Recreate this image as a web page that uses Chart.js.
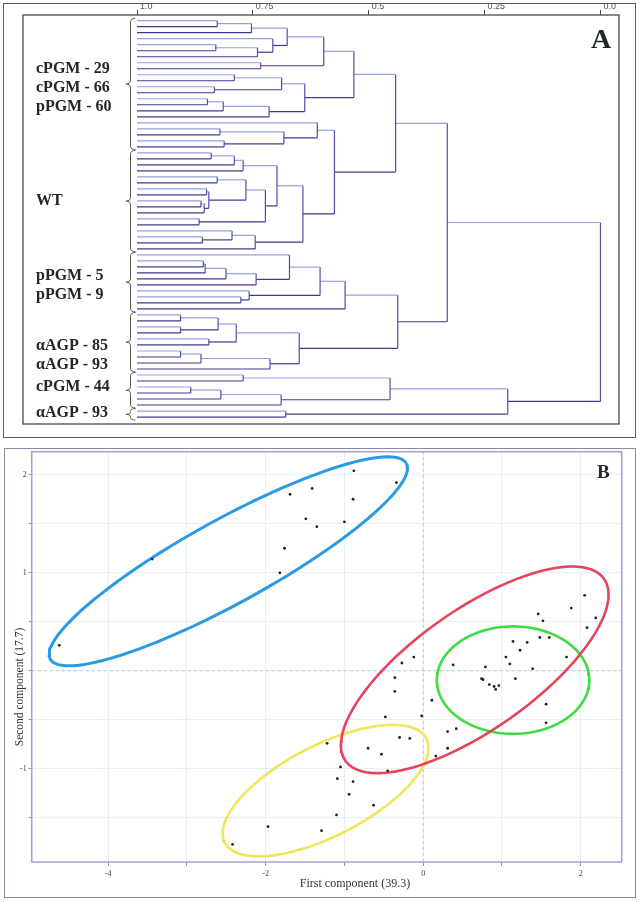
<!DOCTYPE html>
<html>
<head>
<meta charset="utf-8">
<script src="https://cdn.jsdelivr.net/npm/chart.js@4.4.1/dist/chart.umd.min.js"></script>
<style>
  body { margin: 0; background: #fff; width: 640px; height: 902px; position: relative; overflow: hidden; }
  .frame { position: absolute; box-sizing: border-box; }
  #frame-a { left: 3px; top: 3px; width: 633px; height: 435px; border: 1.5px solid #5c5c5c; }
  #frame-b { left: 4px; top: 448px; width: 632px; height: 450px; border: 1.5px solid #8d88a8; }
  canvas { position: absolute; left: 0; }
  #dendro { top: 0; }
  #pca { top: 440px; }
</style>
</head>
<body>
<div class="frame" id="frame-a"></div>
<div class="frame" id="frame-b"></div>
<canvas id="dendro" width="640" height="440"></canvas>
<canvas id="pca" width="640" height="462"></canvas>
<script>
// ---- Panel A: cluster tree ----
const leafCount = 67;
const distanceTicks = [1, 0.75, 0.5, 0.25, 0];

// [node, upper child, lower child, distance]; numbers are leaves, counted from the top
const merges = [
  ['c1', 0, 1, 0.827], ['c2', 'c1', 2, 0.753], ['c3', 4, 5, 0.830], ['c4', 'c3', 6, 0.740],
  ['c5', 3, 'c4', 0.707], ['c6', 'c2', 'c5', 0.676], ['c7', 7, 8, 0.733], ['c8', 'c6', 'c7', 0.597],
  ['d1', 9, 10, 0.790], ['d2', 11, 12, 0.833], ['d3', 'd1', 'd2', 0.688],
  ['d4', 13, 14, 0.848], ['d5', 'd4', 15, 0.814], ['d6', 'd5', 16, 0.715], ['d7', 'd3', 'd6', 0.638],
  ['c9', 'c8', 'd7', 0.532],
  ['e1', 18, 19, 0.821], ['e2', 20, 21, 0.812], ['e3', 'e1', 'e2', 0.683], ['e4', 17, 'e3', 0.611],
  ['w1', 22, 23, 0.840], ['w2', 'w1', 24, 0.790], ['w3', 'w2', 25, 0.771],
  ['w4', 26, 27, 0.827], ['w5', 28, 29, 0.850], ['w6', 30, 31, 0.862], ['w7', 'w6', 32, 0.855],
  ['w8', 'w5', 'w7', 0.845], ['w9', 'w4', 'w8', 0.765], ['w10', 33, 34, 0.866],
  ['w11', 'w9', 'w10', 0.723], ['w12', 'w3', 'w11', 0.698],
  ['w13', 36, 37, 0.859], ['w14', 35, 'w13', 0.795], ['w15', 'w14', 38, 0.745],
  ['wt', 'w12', 'w15', 0.642],
  ['e5', 'e4', 'wt', 0.574], ['up', 'c9', 'e5', 0.442],
  ['p1', 40, 41, 0.857], ['p2', 'p1', 42, 0.853], ['p3', 'p2', 43, 0.808], ['p4', 'p3', 44, 0.743],
  ['p5', 39, 'p4', 0.671], ['p6', 46, 47, 0.776], ['p7', 45, 'p6', 0.758], ['p8', 'p5', 'p7', 0.605],
  ['pp', 'p8', 48, 0.551],
  ['a1', 49, 50, 0.906], ['a2', 51, 52, 0.906], ['a3', 'a1', 'a2', 0.825], ['a4', 53, 54, 0.845],
  ['a5', 'a3', 'a4', 0.786], ['a6', 55, 56, 0.906], ['a7', 'a6', 57, 0.862], ['a8', 'a7', 58, 0.713],
  ['a9', 'a5', 'a8', 0.650],
  ['mid', 'pp', 'a9', 0.4375], ['top', 'up', 'mid', 0.3305],
  ['b1', 59, 60, 0.771], ['b2', 61, 62, 0.884], ['b3', 'b2', 63, 0.819], ['b4', 'b3', 64, 0.689],
  ['b5', 'b1', 'b4', 0.454], ['b6', 65, 66, 0.679], ['b7', 'b5', 'b6', 0.200],
  ['root', 'top', 'b7', 0.0]
];

const groupLabels = [
  ['cPGM - 29', 'cPGM - 66', 'pPGM - 60'],
  ['WT'],
  ['pPGM - 5', 'pPGM - 9'],
  ['αAGP - 85', 'αAGP - 93'],
  ['cPGM - 44'],
  ['αAGP - 93']
];
const groupFirstLeaf = [0, 22, 39, 49, 59, 65];
const groupLastLeaf = [21, 38, 48, 58, 64, 66];

// ---- Panel B: principal components ----
const pcX = [
  -4.62, -3.44, -0.88, -0.34, -1.69, -1.41, -0.89, -1.49, -1.35, -1.00, -1.76, -1.82,
  2.05, 1.88, 2.19, 2.08, 1.46, 1.52, 1.48, 1.60, 1.14, 1.32, 1.23, 1.05, 1.10, 1.82, 1.39,
  0.79, 0.38, 0.74, 0.76, 1.17, 0.84, 0.90, 0.96, 0.92, 1.56, 1.56,
  -0.27, -0.12, -0.36, -0.36, 0.11, -0.02, -0.48, 0.42, 0.31, 0.31, 0.16, -0.30, -0.17,
  -0.70, -0.53, -0.45,
  -1.22, -1.05, -1.09, -0.89, -0.94, -0.63, -1.10, -1.29, -1.97, -2.42
];
const pcY = [
  0.26, 1.14, 2.04, 1.92, 1.80, 1.86, 1.75, 1.55, 1.47, 1.52, 1.25, 1.00,
  0.77, 0.64, 0.54, 0.44, 0.58, 0.51, 0.34, 0.34, 0.30, 0.29, 0.21, 0.14, 0.07, 0.14, 0.02,
  0.04, 0.06, -0.08, -0.09, -0.08, -0.14, -0.16, -0.15, -0.19, -0.34, -0.53,
  0.08, 0.14, -0.07, -0.21, -0.30, -0.46, -0.47, -0.59, -0.62, -0.79, -0.87, -0.68, -0.69,
  -0.79, -0.85, -1.02,
  -0.74, -0.98, -1.10, -1.13, -1.26, -1.37, -1.47, -1.63, -1.59, -1.77
];

// ellipses: centre plus two half-axis vectors, in data units
const ellipseColors = ['#2a9be0', '#e6435d', '#3fdc3f', '#f0e65a'];
const ellipseCx = [-2.474, 0.654, 1.141, -1.239];
const ellipseCy = [1.117, 0.010, -0.095, -1.222];
const ellipseUx = [2.26, 1.642, 0.968, 1.280];
const ellipseUy = [0.998, 0.927, 0.0, 0.530];
const ellipseVx = [0.257, 0.438, 0.0, 0.264];
const ellipseVy = [-0.375, -0.501, 0.548, -0.411];

const xTickValues = [-4, -3, -2, -1, 0, 1, 2];
const yTickValues = [-1.5, -1, -0.5, 0, 0.5, 1, 1.5, 2];
const xMin = -4.97, xMax = 2.52, yMin = -1.95, yMax = 2.235;

// ---- build the tree segments, one dataset per segment ----
const nodeY = {};
const nodeX = {};
for (let i = 0; i < leafCount; i++) { nodeY[i] = i; nodeX[i] = 1; }

function seg(x1, y1, x2, y2, color) {
  return {
    data: [{ x: x1, y: y1 }, { x: x2, y: y2 }],
    showLine: true, pointRadius: 0, borderColor: color, borderWidth: 1.2
  };
}

const treeSets = [];
merges.forEach(([name, a, b, h]) => {
  const ya = nodeY[a], yb = nodeY[b];
  treeSets.push(seg(nodeX[a], ya, h, ya, '#8fa5de'));
  treeSets.push(seg(nodeX[b], yb, h, yb, '#3f3a90'));
  treeSets.push(seg(h, ya, h, yb, '#524dab'));
  nodeY[name] = (ya + yb) / 2;
  nodeX[name] = h;
});

const labelNudge = [4, 0, 3, 13, -3, -1];

const dendroDecor = {
  id: 'dendroDecor',
  afterDraw(chart) {
    const { ctx, chartArea, scales } = chart;
    ctx.save();
    ctx.strokeStyle = '#4a4a4a';
    ctx.lineWidth = 1.3;
    ctx.strokeRect(chartArea.left, chartArea.top, chartArea.right - chartArea.left, chartArea.bottom - chartArea.top);

    // braces and group names
    ctx.strokeStyle = '#555';
    ctx.lineWidth = 1;
    ctx.fillStyle = '#262626';
    ctx.font = 'bold 16px "Liberation Serif"';
    ctx.textBaseline = 'middle';
    groupLabels.forEach((lines, g) => {
      const top = scales.y.getPixelForValue(groupFirstLeaf[g]) - 2.5;
      const bot = scales.y.getPixelForValue(groupLastLeaf[g]) + 3;
      const mid = (top + bot) / 2;
      const xl = 130.5, xe = 135.5, xt = 126;
      const r = Math.min(4, (bot - top) / 4);
      ctx.beginPath();
      ctx.moveTo(xe, top);
      ctx.quadraticCurveTo(xl, top, xl, top + r);
      ctx.lineTo(xl, mid - r);
      ctx.quadraticCurveTo(xl, mid, xt, mid);
      ctx.quadraticCurveTo(xl, mid, xl, mid + r);
      ctx.lineTo(xl, bot - r);
      ctx.quadraticCurveTo(xl, bot, xe, bot);
      ctx.stroke();
      lines.forEach((t, i) => {
        const y = mid + labelNudge[g] + (i - (lines.length - 1) / 2) * 19;
        ctx.fillText(t, 36, y);
      });
    });

    ctx.font = 'bold 28px "Liberation Serif"';
    ctx.textBaseline = 'alphabetic';
    ctx.fillStyle = '#1e2a2a';
    ctx.fillText('A', 591, 48);
    ctx.restore();
  }
};

new Chart(document.getElementById('dendro'), {
  type: 'scatter',
  data: { datasets: treeSets },
  options: {
    responsive: false,
    animation: false,
    layout: { padding: { left: 23, right: 21, top: 0, bottom: 16 } },
    plugins: { legend: { display: false }, tooltip: { enabled: false } },
    scales: {
      x: {
        type: 'linear', position: 'top', reverse: true, min: -0.04, max: 1.246,
        afterBuildTicks: s => { s.ticks = distanceTicks.map(v => ({ value: v })); },
        afterFit: s => { s.height = 15; },
        grid: { drawOnChartArea: false, tickLength: 5, tickColor: '#444' },
        border: { display: false },
        ticks: {
          align: 'start', padding: -2, labelOffset: 3, color: '#555', maxRotation: 0, autoSkip: false,
          font: { family: 'Liberation Sans', size: 9 },
          callback: v => (v === 1 ? '1.0' : v === 0 ? '0.0' : String(v))
        }
      },
      y: { display: false, min: -0.95, max: 67.16, reverse: true }
    }
  },
  plugins: [dendroDecor]
});

// ---- Panel B chart ----
function ellipsePoints(i) {
  const pts = [];
  for (let s = 0; s <= 120; s++) {
    const t = (s / 120) * Math.PI * 2;
    pts.push({
      x: ellipseCx[i] + ellipseUx[i] * Math.cos(t) + ellipseVx[i] * Math.sin(t),
      y: ellipseCy[i] + ellipseUy[i] * Math.cos(t) + ellipseVy[i] * Math.sin(t)
    });
  }
  return pts;
}

const pcaDatasets = [
  {
    data: pcX.map((x, i) => ({ x, y: pcY[i] })),
    pointRadius: 1.4, pointBackgroundColor: '#222', pointBorderWidth: 0
  }
];
ellipseColors.forEach((c, i) => {
  pcaDatasets.push({
    data: ellipsePoints(i), showLine: true, pointRadius: 0,
    borderColor: c, borderWidth: i === 0 ? 3 : 2.6, tension: 0
  });
});
pcaDatasets.push(
  { data: [{ x: 0, y: yMin }, { x: 0, y: yMax }], showLine: true, pointRadius: 0, borderColor: '#a4d2e3', borderWidth: 1, borderDash: [3, 3] },
  { data: [{ x: xMin, y: 0 }, { x: xMax, y: 0 }], showLine: true, pointRadius: 0, borderColor: '#a4d2e3', borderWidth: 1, borderDash: [3, 3] }
);

const pcaDecor = {
  id: 'pcaDecor',
  afterDraw(chart) {
    const { ctx, chartArea } = chart;
    ctx.save();
    ctx.strokeStyle = '#a69ed6';
    ctx.lineWidth = 1.5;
    ctx.strokeRect(chartArea.left, chartArea.top, chartArea.right - chartArea.left, chartArea.bottom - chartArea.top);

    ctx.fillStyle = '#333';
    ctx.font = '12px "Liberation Serif"';
    ctx.textAlign = 'center';
    ctx.textBaseline = 'middle';
    ctx.fillText('First component (39.3)', 355, 444);

    ctx.translate(20, 247);
    ctx.rotate(-Math.PI / 2);
    ctx.font = '11.5px "Liberation Serif"';
    ctx.fillText('Second component (17.7)', 0, 0);
    ctx.restore();

    ctx.save();
    ctx.font = 'bold 19px "Liberation Serif"';
    ctx.fillStyle = '#2a2a2a';
    ctx.fillText('B', 597, 38);
    ctx.restore();
  }
};

new Chart(document.getElementById('pca'), {
  type: 'scatter',
  data: { datasets: pcaDatasets },
  options: {
    responsive: false,
    animation: false,
    layout: { padding: { left: 0, right: 18.3, top: 11.7, bottom: 0 } },
    plugins: { legend: { display: false }, tooltip: { enabled: false } },
    scales: {
      x: {
        type: 'linear', min: xMin, max: xMax,
        afterBuildTicks: s => { s.ticks = xTickValues.map(v => ({ value: v })); },
        afterFit: s => { s.height = 40; },
        grid: { color: '#e4f1f6', tickLength: 4, tickColor: '#999' },
        border: { display: false },
        ticks: {
          padding: 3, color: '#444', maxRotation: 0, autoSkip: false,
          font: { family: 'Liberation Serif', size: 8 },
          callback: v => (v % 2 === 0 ? String(v) : '')
        }
      },
      y: {
        type: 'linear', min: yMin, max: yMax,
        afterBuildTicks: s => { s.ticks = yTickValues.map(v => ({ value: v })); },
        afterFit: s => { s.width = 31.7; },
        grid: { color: '#e4f1f6', tickLength: 3, tickColor: '#999' },
        border: { display: false },
        ticks: {
          padding: 2, color: '#444', autoSkip: false,
          font: { family: 'Liberation Serif', size: 8 },
          callback: v => (v === 2 || v === 1 || v === -1 ? String(v) : '')
        }
      }
    }
  },
  plugins: [pcaDecor]
});
</script>
</body>
</html>
